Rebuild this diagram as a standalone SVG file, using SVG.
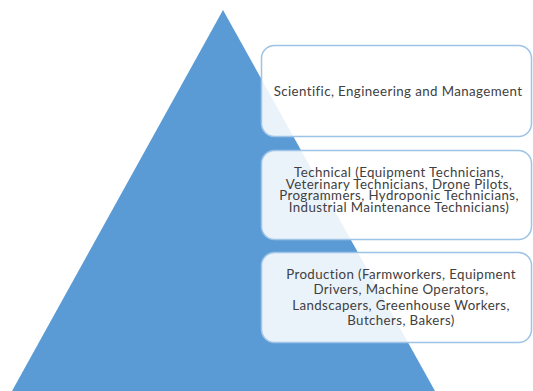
<svg xmlns="http://www.w3.org/2000/svg" width="533" height="391" viewBox="0 0 533 391">
<style>
.box{fill:#ffffff;fill-opacity:0.88;stroke:#9dc3e6;stroke-width:1.5}
.t{font-family:Lato,"Open Sans","Liberation Sans",sans-serif;font-size:13.3px;letter-spacing:0.4px;fill:#404040;text-anchor:middle}
</style>
<rect width="533" height="391" fill="#ffffff"/>
<g id="pyramid"><polygon points="223,10 12,391 435,391" fill="#5b9bd5"/></g>
<g id="connectors"></g>
<g id="level1">
<rect class="box" x="261.5" y="45.5" width="270" height="91" rx="13"/>
<text class="t" x="398" y="96">Scientific, Engineering and Management</text>
</g>
<g id="level2">
<rect class="box" x="261.5" y="150.5" width="270" height="89" rx="13"/>
<text class="t" x="399" y="177">Technical (Equipment Technicians,</text>
<text class="t" x="399" y="188.7">Veterinary Technicians, Drone Pilots,</text>
<text class="t" x="399" y="200.4">Programmers, Hydroponic Technicians,</text>
<text class="t" x="399" y="212">Industrial Maintenance Technicians)</text>
</g>
<g id="level3">
<rect class="box" x="261.5" y="252.5" width="270" height="90" rx="13"/>
<text class="t" x="401" y="279">Production (Farmworkers, Equipment</text>
<text class="t" x="401" y="294.3">Drivers, Machine Operators,</text>
<text class="t" x="401" y="309.6">Landscapers, Greenhouse Workers,</text>
<text class="t" x="401" y="325">Butchers, Bakers)</text>
</g>
</svg>
